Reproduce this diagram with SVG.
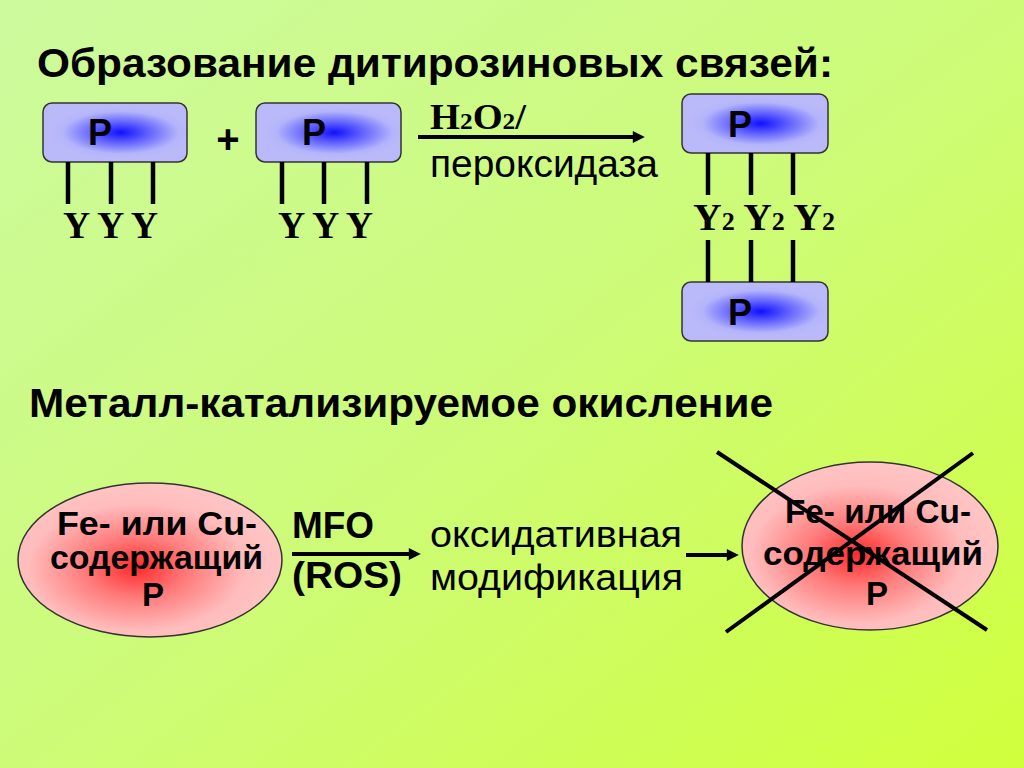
<svg xmlns="http://www.w3.org/2000/svg" width="1024" height="768" viewBox="0 0 1024 768">
  <defs>
    <linearGradient id="bg" x1="0" y1="0" x2="1" y2="1">
      <stop offset="0" stop-color="#ccfa9e"/>
      <stop offset="0.5" stop-color="#cdfb78"/>
      <stop offset="1" stop-color="#d0ff3c"/>
    </linearGradient>
    <radialGradient id="blue" cx="0.54" cy="0.5" r="0.5" gradientTransform="translate(0.54 0.5) scale(1 0.9) translate(-0.54 -0.5)">
      <stop offset="0" stop-color="#1010ff"/>
      <stop offset="0.35" stop-color="#5a5aff"/>
      <stop offset="0.8" stop-color="#b4b4fb"/>
      <stop offset="1" stop-color="#babafa"/>
    </radialGradient>
    <radialGradient id="red" cx="0.45" cy="0.55" r="0.55">
      <stop offset="0" stop-color="#ff2a2a"/>
      <stop offset="0.35" stop-color="#ff7a7a"/>
      <stop offset="0.75" stop-color="#ffbcbc"/>
      <stop offset="1" stop-color="#ffc4c4"/>
    </radialGradient>
    <marker id="ah" viewBox="0 0 10 10" refX="1" refY="5" markerWidth="16" markerHeight="12" markerUnits="userSpaceOnUse" orient="auto">
      <path d="M0,0 L10,5 L0,10 z" fill="#000"/>
    </marker>
  </defs>
  <style>
    .h { font-family: "Liberation Sans", Arial, sans-serif; font-weight: bold; fill: #000; }
    .s { font-family: "Liberation Sans", Arial, sans-serif; fill: #000; }
    .t { font-family: "Liberation Serif", "Times New Roman", serif; font-weight: bold; fill: #000; }
    .box { fill: url(#blue); stroke: #333; stroke-width: 1.5; }
    .ell { fill: url(#red); stroke: #333; stroke-width: 1.5; }
    .bond { stroke: #000; stroke-width: 4.5; fill: none; }
    .arrow { stroke: #000; stroke-width: 4; fill: none; marker-end: url(#ah); }
    .cross { stroke: #000; stroke-width: 4; fill: none; }
    .p { font-size: 36px; }
  </style>

  <rect x="0" y="0" width="1024" height="768" fill="url(#bg)"/>

  <text class="h" x="37" y="77" font-size="41" textLength="796" lengthAdjust="spacingAndGlyphs">Образование дитирозиновых связей:</text>
  <text class="h" x="29" y="417" font-size="41" textLength="744" lengthAdjust="spacingAndGlyphs">Металл-катализируемое окисление</text>

  <g id="node-p1">
    <rect class="box" x="43" y="103" width="144" height="59" rx="9"/>
    <text class="h p" x="100" y="145" text-anchor="middle">P</text>
  </g>
  <text class="h" x="228" y="153" font-size="40" text-anchor="middle">+</text>
  <g id="node-p2">
    <rect class="box" x="256" y="103" width="145" height="59" rx="9"/>
    <text class="h p" x="314" y="145" text-anchor="middle">P</text>
  </g>
  <g id="node-p3">
    <rect class="box" x="682" y="94" width="146" height="59" rx="9"/>
    <text class="h p" x="740" y="137" text-anchor="middle">P</text>
  </g>
  <g id="node-p4">
    <rect class="box" x="682" y="282" width="146" height="59" rx="9"/>
    <text class="h p" x="740" y="325" text-anchor="middle">P</text>
  </g>

  <g id="connectors">
    <line class="bond" x1="68" y1="162" x2="68" y2="204"/>
    <line class="bond" x1="111" y1="162" x2="111" y2="204"/>
    <line class="bond" x1="153" y1="162" x2="153" y2="204"/>
    <line class="bond" x1="282" y1="162" x2="282" y2="204"/>
    <line class="bond" x1="324" y1="162" x2="324" y2="204"/>
    <line class="bond" x1="367" y1="162" x2="367" y2="204"/>
    <line class="bond" x1="708" y1="153" x2="708" y2="195"/>
    <line class="bond" x1="751" y1="153" x2="751" y2="195"/>
    <line class="bond" x1="793" y1="153" x2="793" y2="195"/>
    <line class="bond" x1="708" y1="240" x2="708" y2="282"/>
    <line class="bond" x1="751" y1="240" x2="751" y2="282"/>
    <line class="bond" x1="793" y1="240" x2="793" y2="282"/>
    <line class="arrow" x1="418" y1="137" x2="634" y2="137"/>
    <line class="arrow" x1="292" y1="554" x2="410" y2="554"/>
    <line class="arrow" x1="686" y1="555" x2="728" y2="555"/>
  </g>

  <g id="labels">
    <text class="t" x="63" y="238" font-size="37" textLength="95" lengthAdjust="spacingAndGlyphs">Y Y Y</text>
    <text class="t" x="278" y="238" font-size="37" textLength="95" lengthAdjust="spacingAndGlyphs">Y Y Y</text>
    <text class="t" x="693" y="230" font-size="38" textLength="142" lengthAdjust="spacingAndGlyphs">Y<tspan font-size="25">2</tspan> Y<tspan font-size="25">2</tspan> Y<tspan font-size="25">2</tspan></text>
    <text class="t" x="430" y="129" font-size="35" textLength="96" lengthAdjust="spacingAndGlyphs">H<tspan font-size="23">2</tspan>O<tspan font-size="23">2</tspan>/</text>
    <text class="s" x="430" y="177" font-size="38" textLength="228" lengthAdjust="spacingAndGlyphs">пероксидаза</text>
    <text class="h" x="292" y="538" font-size="36" textLength="82" lengthAdjust="spacingAndGlyphs">MFO</text>
    <text class="h" x="292" y="588" font-size="36" textLength="110" lengthAdjust="spacingAndGlyphs">(ROS)</text>
    <text class="s" x="430" y="547" font-size="36" textLength="252" lengthAdjust="spacingAndGlyphs">оксидативная</text>
    <text class="s" x="430" y="590" font-size="36" textLength="253" lengthAdjust="spacingAndGlyphs">модификация</text>
  </g>

  <g id="node-e1">
    <ellipse class="ell" cx="150" cy="560" rx="132" ry="77"/>
    <text class="h" x="57" y="535" font-size="33" textLength="200" lengthAdjust="spacingAndGlyphs">Fe- или Cu-</text>
    <text class="h" x="50" y="569" font-size="33" textLength="213" lengthAdjust="spacingAndGlyphs">содержащий</text>
    <text class="h" x="153" y="606" font-size="33" text-anchor="middle">P</text>
  </g>

  <g id="node-e2">
    <ellipse class="ell" cx="870" cy="546" rx="128" ry="84"/>
    <text class="h" x="785" y="523" font-size="33" textLength="186" lengthAdjust="spacingAndGlyphs">Fe- или Cu-</text>
    <text class="h" x="763" y="565" font-size="33" textLength="220" lengthAdjust="spacingAndGlyphs">содержащий</text>
    <text class="h" x="877" y="605" font-size="33" text-anchor="middle">P</text>
    <line class="cross" x1="717" y1="452" x2="987" y2="630"/>
    <line class="cross" x1="973" y1="453" x2="726" y2="632"/>
  </g>
</svg>
